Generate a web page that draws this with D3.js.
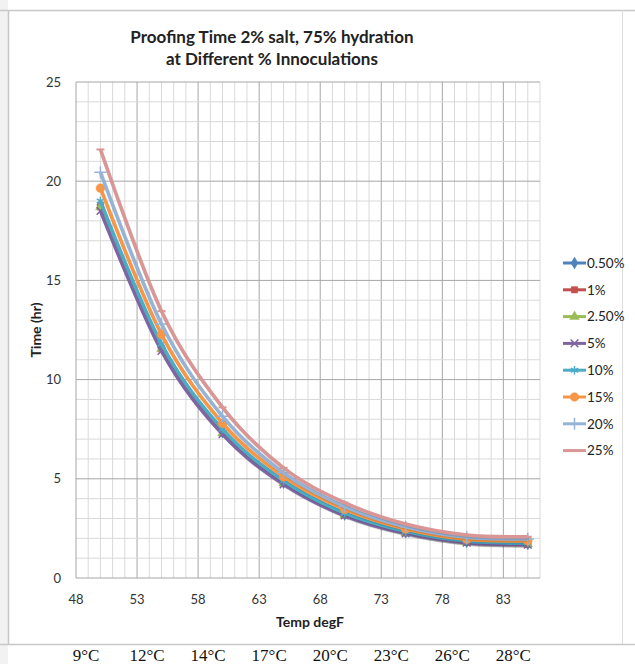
<!DOCTYPE html>
<html><head><meta charset="utf-8">
<script src="https://cdn.jsdelivr.net/npm/d3@7"></script>
<style>body{margin:0;background:#fff;} svg{display:block;}</style>
</head><body>
<svg id="c" width="635" height="664"></svg>
<script>
const temps = [50, 55, 60, 65, 70, 75, 80, 85];
const seriesNames = ["0.50%", "1%", "2.50%", "5%", "10%", "15%", "20%", "25%"];
const s050 = [18.8, 11.6, 7.35, 4.80, 3.20, 2.30, 1.82, 1.72];
const s1   = [18.7, 11.55, 7.30, 4.78, 3.18, 2.28, 1.80, 1.70];
const s250 = [18.7, 11.55, 7.30, 4.78, 3.18, 2.28, 1.80, 1.70];
const s5   = [18.5, 11.45, 7.25, 4.72, 3.15, 2.25, 1.78, 1.68];
const s10  = [19.0, 11.8, 7.50, 4.90, 3.27, 2.35, 1.86, 1.76];
const s15  = [19.65, 12.28, 7.80, 5.10, 3.46, 2.47, 1.95, 1.87];
const s20  = [20.45, 12.8, 8.15, 5.30, 3.60, 2.58, 2.05, 1.97];
const s25  = [21.6, 13.45, 8.60, 5.55, 3.80, 2.72, 2.17, 2.08];
const allSeries = [s050, s1, s250, s5, s10, s15, s20, s25];
const colors = ["#4F81BD", "#C0504D", "#9BBB59", "#8064A2", "#4BACC6", "#F79646", "#95B3D7", "#D99694"];
const xTicks = [48, 53, 58, 63, 68, 73, 78, 83];
const yTicks = [0, 5, 10, 15, 20, 25];
const celsius = ["9\u00B0C", "12\u00B0C", "14\u00B0C", "17\u00B0C", "20\u00B0C", "23\u00B0C", "26\u00B0C", "28\u00B0C"];
const titleLines = ["Proofing Time 2% salt, 75% hydration", "at Different % Innoculations"];

const svg = d3.select("#c");
const L = 76, R = 540, T = 82, B = 578;
const x = d3.scaleLinear().domain([48, 86]).range([L, R]);
const y = d3.scaleLinear().domain([0, 25]).range([B, T]);

// frame lines
svg.append("rect").attr("x",0).attr("y",0).attr("width",8).attr("height",664).attr("fill","#f2f2f2");
svg.append("line").attr("x1",0).attr("x2",635).attr("y1",10.5).attr("y2",10.5).attr("stroke","#c8c8c8").attr("stroke-width",1.5);
svg.append("line").attr("x1",8.5).attr("x2",8.5).attr("y1",10).attr("y2",644).attr("stroke","#c8c8c8").attr("stroke-width",1.5);
svg.append("line").attr("x1",0).attr("x2",635).attr("y1",644.5).attr("y2",644.5).attr("stroke","#c8c8c8").attr("stroke-width",1.5);
svg.append("line").attr("x1",622.5).attr("x2",622.5).attr("y1",10).attr("y2",644).attr("stroke","#dcdcdc").attr("stroke-width",1);

// grid
const g = svg.append("g");
d3.range(49, 87, 1).forEach(v => {
  g.append("line").attr("x1", x(v)).attr("x2", x(v)).attr("y1", T).attr("y2", B)
   .attr("stroke", (v - 48) % 5 === 0 ? "#a6a6a6" : "#d9d9d9").attr("stroke-width", 1);
});
d3.range(1, 26, 1).forEach(v => {
  g.append("line").attr("x1", L).attr("x2", R).attr("y1", y(v)).attr("y2", y(v))
   .attr("stroke", v % 5 === 0 ? "#a6a6a6" : "#d9d9d9").attr("stroke-width", 1);
});
g.append("line").attr("x1", L).attr("x2", L).attr("y1", T).attr("y2", B).attr("stroke", "#a6a6a6");
g.append("line").attr("x1", L).attr("x2", R).attr("y1", B).attr("y2", B).attr("stroke", "#a6a6a6");

const font = "Lato, 'Open Sans', sans-serif";
svg.append("g").selectAll("text").data(yTicks).join("text")
  .attr("x", 61).attr("y", d => y(d)).attr("dy", "0.35em").attr("text-anchor", "end")
  .attr("font-family", font).attr("font-size", 13).attr("fill", "#333").text(d => d);
svg.append("g").selectAll("text").data(xTicks).join("text")
  .attr("x", d => x(d)).attr("y", 604).attr("text-anchor", "middle")
  .attr("font-family", font).attr("font-size", 13).attr("fill", "#333").text(d => d);
svg.append("g").selectAll("text").data(celsius).join("text")
  .attr("x", (d, i) => x(xTicks[i]) + 10).attr("y", 661).attr("text-anchor", "middle")
  .attr("font-family", "'Liberation Serif', 'DejaVu Serif', serif").attr("font-size", 17).attr("fill", "#111").text(d => d);

svg.append("g").selectAll("text").data(titleLines).join("text")
  .attr("x", 272).attr("y", (d, i) => 43 + i * 22).attr("text-anchor", "middle")
  .attr("font-family", font).attr("font-weight", "bold").attr("font-size", 17).attr("fill", "#222").text(d => d);
svg.append("text").attr("x", 310).attr("y", 627).attr("text-anchor", "middle")
  .attr("font-family", font).attr("font-weight", "bold").attr("font-size", 14).attr("fill", "#222").text("Temp degF");
svg.append("text").attr("transform", "translate(41,330) rotate(-90)").attr("text-anchor", "middle")
  .attr("font-family", font).attr("font-weight", "bold").attr("font-size", 14).attr("fill", "#222").text("Time (hr)");

const symTypes = [d3.symbolDiamond, d3.symbolSquare, d3.symbolTriangle, d3.symbolTimes || d3.symbolCross,
  d3.symbolAsterisk || d3.symbolCross, d3.symbolCircle, d3.symbolPlus || d3.symbolCross, null];
const symSizes = [40, 40, 40, 40, 50, 60, 50, 0];
const filled = [true, true, true, false, false, true, false, false];
function marker(sel, i, cx, cy) {
  if (symTypes[i] === null) {
    sel.append("line").attr("x1", cx - 4).attr("x2", cx + 4).attr("y1", cy).attr("y2", cy)
      .attr("stroke", colors[i]).attr("stroke-width", 2);
    return;
  }
  const p = sel.append("path").attr("transform", `translate(${cx},${cy})`)
    .attr("d", d3.symbol().type(symTypes[i]).size(symSizes[i])());
  if (filled[i]) p.attr("fill", colors[i]).attr("stroke", colors[i]).attr("stroke-width", 0.5);
  else p.attr("fill", "none").attr("stroke", colors[i]).attr("stroke-width", 1.5);
}

const line = d3.line().x((d, i) => x(temps[i])).y(d => y(d)).curve(d3.curveCardinal.tension(0));
const plot = svg.append("g");
allSeries.forEach((vals, i) => {
  plot.append("path").attr("d", line(vals)).attr("fill", "none")
    .attr("stroke", "rgba(0,0,0,0.12)").attr("stroke-width", 3.5).attr("transform", "translate(1,1.5)");
  plot.append("path").attr("d", line(vals)).attr("fill", "none")
    .attr("stroke", colors[i]).attr("stroke-width", 3.5).attr("stroke-linejoin", "round");
  vals.forEach((v, j) => marker(plot, i, x(temps[j]), y(v)));
});

const lg = svg.append("g");
seriesNames.forEach((n, i) => {
  const ly = 263 + i * 26.8;
  lg.append("line").attr("x1", 563).attr("x2", 586).attr("y1", ly).attr("y2", ly)
    .attr("stroke", colors[i]).attr("stroke-width", 3);
  marker(lg, i, 574.5, ly);
  lg.append("text").attr("x", 587).attr("y", ly).attr("dy", "0.35em")
    .attr("font-family", font).attr("font-size", 13.5).attr("fill", "#222").text(n);
});
</script>
</body></html>
